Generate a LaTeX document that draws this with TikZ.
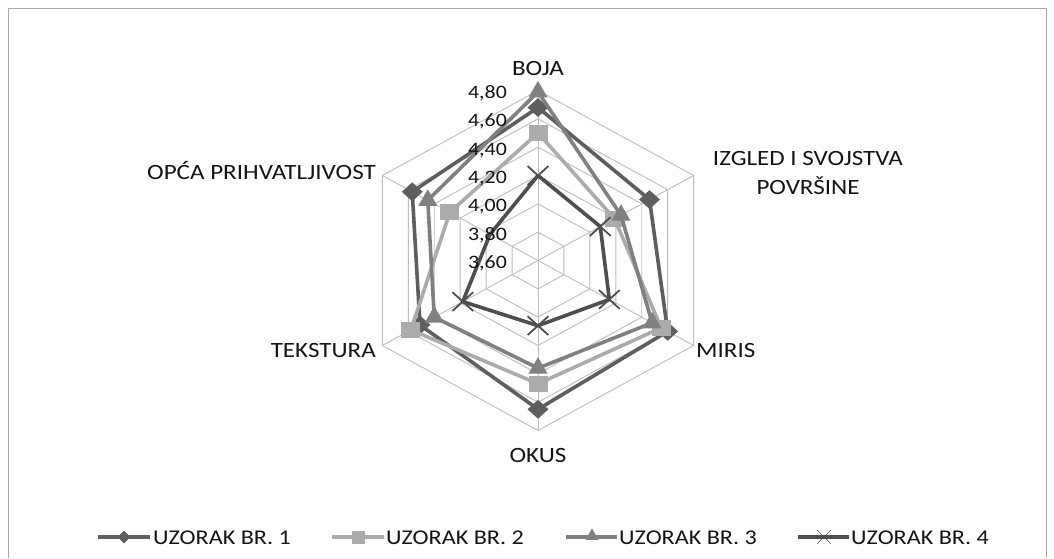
\documentclass[tikz,border=0pt]{standalone}
\usepackage{fontspec}
\setmainfont{Carlito}[FakeStretch=1.15]
\usetikzlibrary{shapes.geometric,shapes.misc}
\definecolor{gridc}{HTML}{BEBEBE}
\definecolor{framec}{HTML}{A8A8A8}
\definecolor{ca}{HTML}{5E5E5E}
\definecolor{cb}{HTML}{ABABAB}
\definecolor{cc}{HTML}{808080}
\definecolor{cd}{HTML}{4E4E4E}
\definecolor{txt}{HTML}{141414}
\tikzset{
  gridline/.style={draw=gridc, line width=0.9pt},
  serline/.style={line width=3.6pt, line join=round},
  mka/.style={diamond, fill=ca, inner sep=0pt, minimum width=21pt, minimum height=19pt},
  mkb/.style={rectangle, fill=cb, inner sep=0pt, minimum width=19pt, minimum height=16pt},
  mkc/.style={regular polygon, regular polygon sides=3, fill=cc, inner sep=0pt, minimum size=22pt},
  mkd/.style={cross out, draw=cd, line width=1.8pt, inner sep=0pt, minimum width=19pt, minimum height=17pt},
  lga/.style={diamond, fill=ca, inner sep=0pt, minimum width=13pt, minimum height=13pt},
  lgb/.style={rectangle, fill=cb, inner sep=0pt, minimum width=13pt, minimum height=13pt},
  lgc/.style={regular polygon, regular polygon sides=3, fill=cc, inner sep=0pt, minimum size=15pt},
  lgd/.style={cross out, draw=cd, line width=0.6pt, inner sep=0pt, minimum size=13pt},
  axlab/.style={text=txt, inner sep=0pt, font=\fontsize{19}{21}\selectfont},
  catlab/.style={text=txt, inner sep=0pt, font=\fontsize{21.8}{29}\selectfont},
  leglab/.style={text=txt, inner sep=0pt, font=\fontsize{21}{24}\selectfont}
}
\begin{document}
\begin{tikzpicture}[x=1pt,y=-1pt]
\useasboundingbox (0,0) rectangle (1054,558);
\fill[white] (0,0) rectangle (1054,558);
\draw[framec, line width=0.9pt] (8,558) -- (8,8) -- (1046,8) -- (1046,558);

\begin{scope}[shift={(538,260.5)}, x=179.7pt, y=170pt]
  \coordinate (O) at (0,0);
  \foreach \k in {1,...,6}
    \draw[gridline] (90:{\k/6}) -- (30:{\k/6}) -- (-30:{\k/6}) -- (-90:{\k/6}) -- (210:{\k/6}) -- (150:{\k/6}) -- cycle;
  \foreach \a in {90,30,-30,-90,210,150}
    \draw[gridline] (O) -- (\a:1);

  % series 1
  \coordinate (a1) at (90:{(4.68-3.6)/1.2});
  \coordinate (a2) at (30:{(4.46-3.6)/1.2});
  \coordinate (a3) at (-30:{(4.60-3.6)/1.2});
  \coordinate (a4) at (-90:{(4.65-3.6)/1.2});
  \coordinate (a5) at (210:{(4.51-3.6)/1.2});
  \coordinate (a6) at (150:{(4.57-3.6)/1.2});
  % series 2
  \coordinate (b1) at (90:{(4.50-3.6)/1.2});
  \coordinate (b2) at (30:{(4.19-3.6)/1.2});
  \coordinate (b3) at (-30:{(4.55-3.6)/1.2});
  \coordinate (b4) at (-90:{(4.47-3.6)/1.2});
  \coordinate (b5) at (210:{(4.58-3.6)/1.2});
  \coordinate (b6) at (150:{(4.28-3.6)/1.2});
  % series 3
  \coordinate (c1) at (90:{(4.79-3.6)/1.2});
  \coordinate (c2) at (30:{(4.24-3.6)/1.2});
  \coordinate (c3) at (-30:{(4.48-3.6)/1.2});
  \coordinate (c4) at (-90:{(4.36-3.6)/1.2});
  \coordinate (c5) at (210:{(4.40-3.6)/1.2});
  \coordinate (c6) at (150:{(4.45-3.6)/1.2});
  % series 4
  \coordinate (d1) at (90:{(4.20-3.6)/1.2});
  \coordinate (d2) at (30:{(4.08-3.6)/1.2});
  \coordinate (d3) at (-30:{(4.15-3.6)/1.2});
  \coordinate (d4) at (-90:{(4.06-3.6)/1.2});
  \coordinate (d5) at (210:{(4.18-3.6)/1.2});
  \coordinate (d6) at (150:{(3.97-3.6)/1.2});

  \draw[serline, ca] (a1) -- (a2) -- (a3) -- (a4) -- (a5) -- (a6) -- cycle;
  \foreach \i in {1,...,6} \node[mka] (ma\i) at (a\i) {};
  \draw[serline, cb] (b1) -- (b2) -- (b3) -- (b4) -- (b5) -- (b6) -- cycle;
  \foreach \i in {1,...,6} \node[mkb] (mb\i) at (b\i) {};
  \draw[serline, cc] (c1) -- (c2) -- (c3) -- (c4) -- (c5) -- (c6) -- cycle;
  \foreach \i in {1,...,6} \node[mkc] (mc\i) at (c\i) {};
  \draw[serline, cd] (d1) -- (d2) -- (d3) -- (d4) -- (d5) -- (d6) -- cycle;
  \foreach \i in {1,...,5} \node[mkd] (md\i) at (d\i) {};
\end{scope}

% axis value labels
\foreach \k/\t in {0/{3,60},1/{3,80},2/{4,00},3/{4,20},4/{4,40},5/{4,60},6/{4,80}}
  \node[axlab, anchor=base east] (ax\k) at (507, {260.5-170*\k/6+8}) {\t};

% category labels
\node[catlab, anchor=base] (boja) at (538,75) {BOJA};
\node[catlab, align=center, anchor=center] (izgled) at (808,172.5) {IZGLED I SVOJSTVA\\POVRŠINE};
\node[catlab, anchor=base west] (miris) at (696,357) {MIRIS};
\node[catlab, anchor=base] (okus) at (538,462) {OKUS};
\node[catlab, anchor=base east] (tekstura) at (376,357) {TEKSTURA};
\node[catlab, anchor=base east] (opca) at (376,179) {OPĆA PRIHVATLJIVOST};

% legend
\coordinate (la0) at (98,537);  \coordinate (la1) at (150,537);
\coordinate (lb0) at (332,537); \coordinate (lb1) at (384,537);
\coordinate (lc0) at (566,537); \coordinate (lc1) at (617,537);
\coordinate (ld0) at (798,537); \coordinate (ld1) at (849,537);
\draw[serline, ca] (la0) -- (la1);
\node[lga] (lma) at (124,537) {};
\node[leglab, anchor=base west] (lta) at (153,544) {UZORAK BR. 1};
\draw[serline, cb] (lb0) -- (lb1);
\node[lgb] (lmb) at (358,537) {};
\node[leglab, anchor=base west] (ltb) at (386,544) {UZORAK BR. 2};
\draw[serline, cc] (lc0) -- (lc1);
\node[lgc] (lmc) at (592,536) {};
\node[leglab, anchor=base west] (ltc) at (619,544) {UZORAK BR. 3};
\draw[serline, cd] (ld0) -- (ld1);
\node[lgd] (lmd) at (824,537) {};
\node[leglab, anchor=base west] (ltd) at (851,544) {UZORAK BR. 4};
\end{tikzpicture}
\end{document}
